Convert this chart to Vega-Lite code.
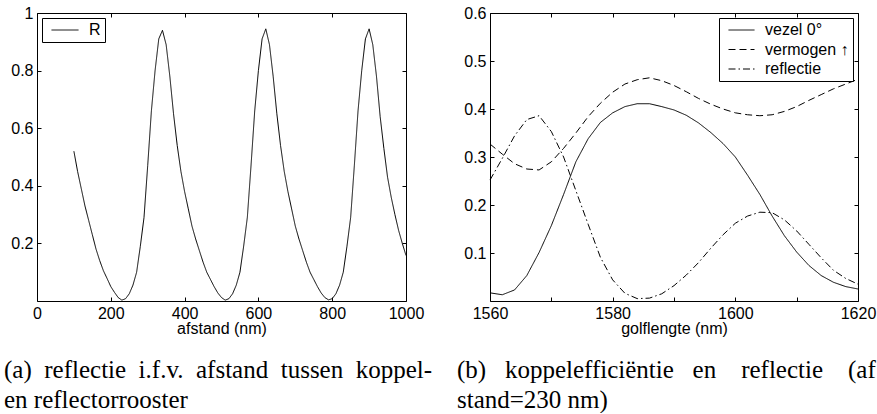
{
  "$schema": "https://vega.github.io/schema/vega-lite/v6.json",
  "background": "white",
  "padding": {"left": 3, "top": 4, "right": 0, "bottom": 0},
  "spacing": 84,
  "bounds": "flush",
  "resolve": {"scale": {"strokeDash": "independent"}, "legend": {"strokeDash": "independent"}},
  "config": {
    "view": {"stroke": "black", "strokeWidth": 1},
    "axis": {
      "grid": false, "domain": false, "tickColor": "black", "tickSize": -4, "tickWidth": 1,
      "labelFont": "Liberation Sans", "labelFontSize": 16, "labelColor": "black",
      "titleFont": "Liberation Sans", "titleFontSize": 16, "titleFontWeight": "normal", "titleColor": "black",
      "labelFlush": false, "labelOverlap": false
    },
    "axisX": {"labelPadding": 8, "titlePadding": -1},
    "axisY": {"labelPadding": 8},
    "legend": {
      "title": null, "symbolType": "stroke", "symbolStrokeColor": "black", "symbolStrokeWidth": 1,
      "labelFont": "Liberation Sans", "labelFontSize": 16, "labelColor": "black",
      "strokeColor": "black", "fillColor": "white", "padding": 4, "symbolOffset": 5, "clipHeight": 16,
      "labelOffset": 10, "rowPadding": 3.5, "offset": 5
    },
    "title": {"font": "Liberation Serif", "fontSize": 25, "fontWeight": "normal", "color": "black", "lineHeight": 30}
  },
  "hconcat": [
    {
      "width": 369, "height": 288,
      "title": {
        "text": ["(a)\u00a0\u00a0reflectie\u00a0\u00a0i.f.v.\u00a0\u00a0afstand\u00a0\u00a0tussen\u00a0\u00a0koppel-", "en reflectorrooster"],
        "orient": "bottom", "anchor": "start", "frame": "group", "dx": -33, "offset": 21.5
      },
      "data": {"values": [
        {"afstand": 100, "R": 0.52, "serie": "R"}, {"afstand": 110, "R": 0.45, "serie": "R"},
        {"afstand": 120, "R": 0.39, "serie": "R"}, {"afstand": 130, "R": 0.33, "serie": "R"},
        {"afstand": 140, "R": 0.28, "serie": "R"}, {"afstand": 150, "R": 0.23, "serie": "R"},
        {"afstand": 160, "R": 0.18, "serie": "R"}, {"afstand": 170, "R": 0.14, "serie": "R"},
        {"afstand": 180, "R": 0.105, "serie": "R"}, {"afstand": 190, "R": 0.078, "serie": "R"},
        {"afstand": 200, "R": 0.05, "serie": "R"}, {"afstand": 210, "R": 0.03, "serie": "R"},
        {"afstand": 220, "R": 0.012, "serie": "R"}, {"afstand": 230, "R": 0.003, "serie": "R"},
        {"afstand": 240, "R": 0.008, "serie": "R"}, {"afstand": 250, "R": 0.025, "serie": "R"},
        {"afstand": 260, "R": 0.055, "serie": "R"}, {"afstand": 270, "R": 0.1, "serie": "R"},
        {"afstand": 280, "R": 0.19, "serie": "R"}, {"afstand": 290, "R": 0.29, "serie": "R"},
        {"afstand": 300, "R": 0.47, "serie": "R"}, {"afstand": 310, "R": 0.66, "serie": "R"},
        {"afstand": 320, "R": 0.8, "serie": "R"}, {"afstand": 330, "R": 0.91, "serie": "R"},
        {"afstand": 340, "R": 0.94, "serie": "R"}, {"afstand": 350, "R": 0.89, "serie": "R"},
        {"afstand": 360, "R": 0.78, "serie": "R"}, {"afstand": 370, "R": 0.65, "serie": "R"},
        {"afstand": 380, "R": 0.54, "serie": "R"}, {"afstand": 390, "R": 0.45, "serie": "R"},
        {"afstand": 400, "R": 0.38, "serie": "R"}, {"afstand": 410, "R": 0.32, "serie": "R"},
        {"afstand": 420, "R": 0.26, "serie": "R"}, {"afstand": 430, "R": 0.215, "serie": "R"},
        {"afstand": 440, "R": 0.175, "serie": "R"}, {"afstand": 450, "R": 0.135, "serie": "R"},
        {"afstand": 460, "R": 0.1, "serie": "R"}, {"afstand": 470, "R": 0.075, "serie": "R"},
        {"afstand": 480, "R": 0.05, "serie": "R"}, {"afstand": 490, "R": 0.028, "serie": "R"},
        {"afstand": 500, "R": 0.012, "serie": "R"}, {"afstand": 510, "R": 0.003, "serie": "R"},
        {"afstand": 520, "R": 0.008, "serie": "R"}, {"afstand": 530, "R": 0.025, "serie": "R"},
        {"afstand": 540, "R": 0.055, "serie": "R"}, {"afstand": 550, "R": 0.1, "serie": "R"},
        {"afstand": 560, "R": 0.19, "serie": "R"}, {"afstand": 570, "R": 0.29, "serie": "R"},
        {"afstand": 580, "R": 0.47, "serie": "R"}, {"afstand": 590, "R": 0.66, "serie": "R"},
        {"afstand": 600, "R": 0.8, "serie": "R"}, {"afstand": 610, "R": 0.91, "serie": "R"},
        {"afstand": 620, "R": 0.945, "serie": "R"}, {"afstand": 630, "R": 0.89, "serie": "R"},
        {"afstand": 640, "R": 0.78, "serie": "R"}, {"afstand": 650, "R": 0.65, "serie": "R"},
        {"afstand": 660, "R": 0.54, "serie": "R"}, {"afstand": 670, "R": 0.45, "serie": "R"},
        {"afstand": 680, "R": 0.38, "serie": "R"}, {"afstand": 690, "R": 0.32, "serie": "R"},
        {"afstand": 700, "R": 0.26, "serie": "R"}, {"afstand": 710, "R": 0.215, "serie": "R"},
        {"afstand": 720, "R": 0.175, "serie": "R"}, {"afstand": 730, "R": 0.135, "serie": "R"},
        {"afstand": 740, "R": 0.1, "serie": "R"}, {"afstand": 750, "R": 0.075, "serie": "R"},
        {"afstand": 760, "R": 0.05, "serie": "R"}, {"afstand": 770, "R": 0.028, "serie": "R"},
        {"afstand": 780, "R": 0.012, "serie": "R"}, {"afstand": 790, "R": 0.004, "serie": "R"},
        {"afstand": 800, "R": 0.008, "serie": "R"}, {"afstand": 810, "R": 0.025, "serie": "R"},
        {"afstand": 820, "R": 0.055, "serie": "R"}, {"afstand": 830, "R": 0.1, "serie": "R"},
        {"afstand": 840, "R": 0.19, "serie": "R"}, {"afstand": 850, "R": 0.29, "serie": "R"},
        {"afstand": 860, "R": 0.47, "serie": "R"}, {"afstand": 870, "R": 0.66, "serie": "R"},
        {"afstand": 880, "R": 0.8, "serie": "R"}, {"afstand": 890, "R": 0.91, "serie": "R"},
        {"afstand": 900, "R": 0.945, "serie": "R"}, {"afstand": 910, "R": 0.89, "serie": "R"},
        {"afstand": 920, "R": 0.78, "serie": "R"}, {"afstand": 930, "R": 0.64, "serie": "R"},
        {"afstand": 940, "R": 0.53, "serie": "R"}, {"afstand": 950, "R": 0.43, "serie": "R"},
        {"afstand": 960, "R": 0.36, "serie": "R"}, {"afstand": 970, "R": 0.3, "serie": "R"},
        {"afstand": 980, "R": 0.245, "serie": "R"}, {"afstand": 990, "R": 0.2, "serie": "R"},
        {"afstand": 1000, "R": 0.158, "serie": "R"}
      ]},
      "layer": [
        {
          "mark": {"type": "line", "color": "black", "strokeWidth": 1},
          "encoding": {
            "x": {"field": "afstand", "type": "quantitative", "scale": {"domain": [0, 1000], "nice": false},
                  "axis": {"orient": "bottom", "title": "afstand (nm)", "values": [0, 200, 400, 600, 800, 1000], "format": "d"}},
            "y": {"field": "R", "type": "quantitative", "scale": {"domain": [0, 1], "nice": false},
                  "axis": {"orient": "left", "title": null, "values": [0.2, 0.4, 0.6, 0.8, 1], "format": "~g"}},
            "strokeDash": {"field": "serie", "type": "nominal",
                           "scale": {"domain": ["R"], "range": [[1, 0]]},
                           "legend": {"orient": "top-left", "symbolSize": 729, "strokeColor": "black", "fillColor": "white"}}
          }
        },
        {
          "mark": {"type": "point", "opacity": 0},
          "encoding": {
            "x": {"field": "afstand", "type": "quantitative",
                  "axis": {"orient": "top", "title": null, "labels": false, "values": [0, 200, 400, 600, 800, 1000]}},
            "y": {"field": "R", "type": "quantitative",
                  "axis": {"orient": "right", "title": null, "labels": false, "values": [0.2, 0.4, 0.6, 0.8, 1]}}
          }
        }
      ],
      "resolve": {"axis": {"x": "independent", "y": "independent"}}
    },
    {
      "width": 368, "height": 288,
      "title": {
        "text": ["(b)\u00a0\u00a0\u00a0koppelefficiëntie\u00a0\u00a0\u00a0en\u00a0\u00a0\u00a0\u00a0reflectie\u00a0\u00a0\u00a0\u00a0(af", "stand=230 nm)"],
        "orient": "bottom", "anchor": "start", "frame": "group", "dx": -33, "offset": 21.5
      },
      "data": {"values": [
        {"golflengte": 1560, "waarde": 0.017, "serie": "vezel 0°"},
        {"golflengte": 1562, "waarde": 0.013, "serie": "vezel 0°"},
        {"golflengte": 1564, "waarde": 0.023, "serie": "vezel 0°"},
        {"golflengte": 1566, "waarde": 0.053, "serie": "vezel 0°"},
        {"golflengte": 1568, "waarde": 0.101, "serie": "vezel 0°"},
        {"golflengte": 1570, "waarde": 0.157, "serie": "vezel 0°"},
        {"golflengte": 1572, "waarde": 0.222, "serie": "vezel 0°"},
        {"golflengte": 1574, "waarde": 0.29, "serie": "vezel 0°"},
        {"golflengte": 1576, "waarde": 0.338, "serie": "vezel 0°"},
        {"golflengte": 1578, "waarde": 0.372, "serie": "vezel 0°"},
        {"golflengte": 1580, "waarde": 0.392, "serie": "vezel 0°"},
        {"golflengte": 1582, "waarde": 0.405, "serie": "vezel 0°"},
        {"golflengte": 1584, "waarde": 0.411, "serie": "vezel 0°"},
        {"golflengte": 1586, "waarde": 0.411, "serie": "vezel 0°"},
        {"golflengte": 1588, "waarde": 0.405, "serie": "vezel 0°"},
        {"golflengte": 1590, "waarde": 0.398, "serie": "vezel 0°"},
        {"golflengte": 1592, "waarde": 0.387, "serie": "vezel 0°"},
        {"golflengte": 1594, "waarde": 0.371, "serie": "vezel 0°"},
        {"golflengte": 1596, "waarde": 0.351, "serie": "vezel 0°"},
        {"golflengte": 1598, "waarde": 0.328, "serie": "vezel 0°"},
        {"golflengte": 1600, "waarde": 0.3, "serie": "vezel 0°"},
        {"golflengte": 1602, "waarde": 0.262, "serie": "vezel 0°"},
        {"golflengte": 1604, "waarde": 0.222, "serie": "vezel 0°"},
        {"golflengte": 1606, "waarde": 0.177, "serie": "vezel 0°"},
        {"golflengte": 1608, "waarde": 0.136, "serie": "vezel 0°"},
        {"golflengte": 1610, "waarde": 0.102, "serie": "vezel 0°"},
        {"golflengte": 1612, "waarde": 0.074, "serie": "vezel 0°"},
        {"golflengte": 1614, "waarde": 0.053, "serie": "vezel 0°"},
        {"golflengte": 1616, "waarde": 0.039, "serie": "vezel 0°"},
        {"golflengte": 1618, "waarde": 0.03, "serie": "vezel 0°"},
        {"golflengte": 1620, "waarde": 0.025, "serie": "vezel 0°"},
        {"golflengte": 1560, "waarde": 0.327, "serie": "vermogen ↑"},
        {"golflengte": 1562, "waarde": 0.306, "serie": "vermogen ↑"},
        {"golflengte": 1564, "waarde": 0.286, "serie": "vermogen ↑"},
        {"golflengte": 1566, "waarde": 0.275, "serie": "vermogen ↑"},
        {"golflengte": 1568, "waarde": 0.273, "serie": "vermogen ↑"},
        {"golflengte": 1570, "waarde": 0.29, "serie": "vermogen ↑"},
        {"golflengte": 1572, "waarde": 0.318, "serie": "vermogen ↑"},
        {"golflengte": 1574, "waarde": 0.35, "serie": "vermogen ↑"},
        {"golflengte": 1576, "waarde": 0.384, "serie": "vermogen ↑"},
        {"golflengte": 1578, "waarde": 0.412, "serie": "vermogen ↑"},
        {"golflengte": 1580, "waarde": 0.435, "serie": "vermogen ↑"},
        {"golflengte": 1582, "waarde": 0.452, "serie": "vermogen ↑"},
        {"golflengte": 1584, "waarde": 0.461, "serie": "vermogen ↑"},
        {"golflengte": 1586, "waarde": 0.465, "serie": "vermogen ↑"},
        {"golflengte": 1588, "waarde": 0.459, "serie": "vermogen ↑"},
        {"golflengte": 1590, "waarde": 0.449, "serie": "vermogen ↑"},
        {"golflengte": 1592, "waarde": 0.436, "serie": "vermogen ↑"},
        {"golflengte": 1594, "waarde": 0.422, "serie": "vermogen ↑"},
        {"golflengte": 1596, "waarde": 0.41, "serie": "vermogen ↑"},
        {"golflengte": 1598, "waarde": 0.4, "serie": "vermogen ↑"},
        {"golflengte": 1600, "waarde": 0.392, "serie": "vermogen ↑"},
        {"golflengte": 1602, "waarde": 0.388, "serie": "vermogen ↑"},
        {"golflengte": 1604, "waarde": 0.386, "serie": "vermogen ↑"},
        {"golflengte": 1606, "waarde": 0.388, "serie": "vermogen ↑"},
        {"golflengte": 1608, "waarde": 0.395, "serie": "vermogen ↑"},
        {"golflengte": 1610, "waarde": 0.405, "serie": "vermogen ↑"},
        {"golflengte": 1612, "waarde": 0.418, "serie": "vermogen ↑"},
        {"golflengte": 1614, "waarde": 0.43, "serie": "vermogen ↑"},
        {"golflengte": 1616, "waarde": 0.442, "serie": "vermogen ↑"},
        {"golflengte": 1618, "waarde": 0.452, "serie": "vermogen ↑"},
        {"golflengte": 1620, "waarde": 0.462, "serie": "vermogen ↑"},
        {"golflengte": 1560, "waarde": 0.252, "serie": "reflectie"},
        {"golflengte": 1562, "waarde": 0.297, "serie": "reflectie"},
        {"golflengte": 1564, "waarde": 0.344, "serie": "reflectie"},
        {"golflengte": 1566, "waarde": 0.378, "serie": "reflectie"},
        {"golflengte": 1568, "waarde": 0.386, "serie": "reflectie"},
        {"golflengte": 1570, "waarde": 0.353, "serie": "reflectie"},
        {"golflengte": 1572, "waarde": 0.3, "serie": "reflectie"},
        {"golflengte": 1574, "waarde": 0.23, "serie": "reflectie"},
        {"golflengte": 1576, "waarde": 0.16, "serie": "reflectie"},
        {"golflengte": 1578, "waarde": 0.091, "serie": "reflectie"},
        {"golflengte": 1580, "waarde": 0.044, "serie": "reflectie"},
        {"golflengte": 1582, "waarde": 0.016, "serie": "reflectie"},
        {"golflengte": 1584, "waarde": 0.005, "serie": "reflectie"},
        {"golflengte": 1586, "waarde": 0.006, "serie": "reflectie"},
        {"golflengte": 1588, "waarde": 0.015, "serie": "reflectie"},
        {"golflengte": 1590, "waarde": 0.032, "serie": "reflectie"},
        {"golflengte": 1592, "waarde": 0.054, "serie": "reflectie"},
        {"golflengte": 1594, "waarde": 0.08, "serie": "reflectie"},
        {"golflengte": 1596, "waarde": 0.11, "serie": "reflectie"},
        {"golflengte": 1598, "waarde": 0.138, "serie": "reflectie"},
        {"golflengte": 1600, "waarde": 0.162, "serie": "reflectie"},
        {"golflengte": 1602, "waarde": 0.177, "serie": "reflectie"},
        {"golflengte": 1604, "waarde": 0.185, "serie": "reflectie"},
        {"golflengte": 1606, "waarde": 0.184, "serie": "reflectie"},
        {"golflengte": 1608, "waarde": 0.169, "serie": "reflectie"},
        {"golflengte": 1610, "waarde": 0.146, "serie": "reflectie"},
        {"golflengte": 1612, "waarde": 0.118, "serie": "reflectie"},
        {"golflengte": 1614, "waarde": 0.09, "serie": "reflectie"},
        {"golflengte": 1616, "waarde": 0.064, "serie": "reflectie"},
        {"golflengte": 1618, "waarde": 0.047, "serie": "reflectie"},
        {"golflengte": 1620, "waarde": 0.035, "serie": "reflectie"}
      ]},
      "layer": [
        {
          "mark": {"type": "line", "color": "black", "strokeWidth": 1},
          "encoding": {
            "x": {"field": "golflengte", "type": "quantitative", "scale": {"domain": [1560, 1620], "nice": false, "zero": false},
                  "axis": {"orient": "bottom", "title": "golflengte (nm)", "values": [1560, 1570, 1580, 1590, 1600, 1610, 1620],
                           "labelExpr": "datum.value % 20 == 0 ? datum.label : ''", "format": "d"}},
            "y": {"field": "waarde", "type": "quantitative", "scale": {"domain": [0, 0.6], "nice": false},
                  "axis": {"orient": "left", "title": null, "values": [0.1, 0.2, 0.3, 0.4, 0.5, 0.6], "format": "~g"}},
            "strokeDash": {"field": "serie", "type": "nominal",
                           "scale": {"domain": ["vezel 0°", "vermogen ↑", "reflectie"], "range": [[1, 0], [7, 4], [7, 3, 1.5, 3]]},
                           "legend": {"orient": "top-right", "symbolSize": 676, "strokeColor": "black", "fillColor": "white"}}
          }
        },
        {
          "mark": {"type": "point", "opacity": 0},
          "encoding": {
            "x": {"field": "golflengte", "type": "quantitative",
                  "axis": {"orient": "top", "title": null, "labels": false, "values": [1560, 1570, 1580, 1590, 1600, 1610, 1620]}},
            "y": {"field": "waarde", "type": "quantitative",
                  "axis": {"orient": "right", "title": null, "labels": false, "values": [0.1, 0.2, 0.3, 0.4, 0.5, 0.6]}}
          }
        }
      ],
      "resolve": {"axis": {"x": "independent", "y": "independent"}}
    }
  ]
}
